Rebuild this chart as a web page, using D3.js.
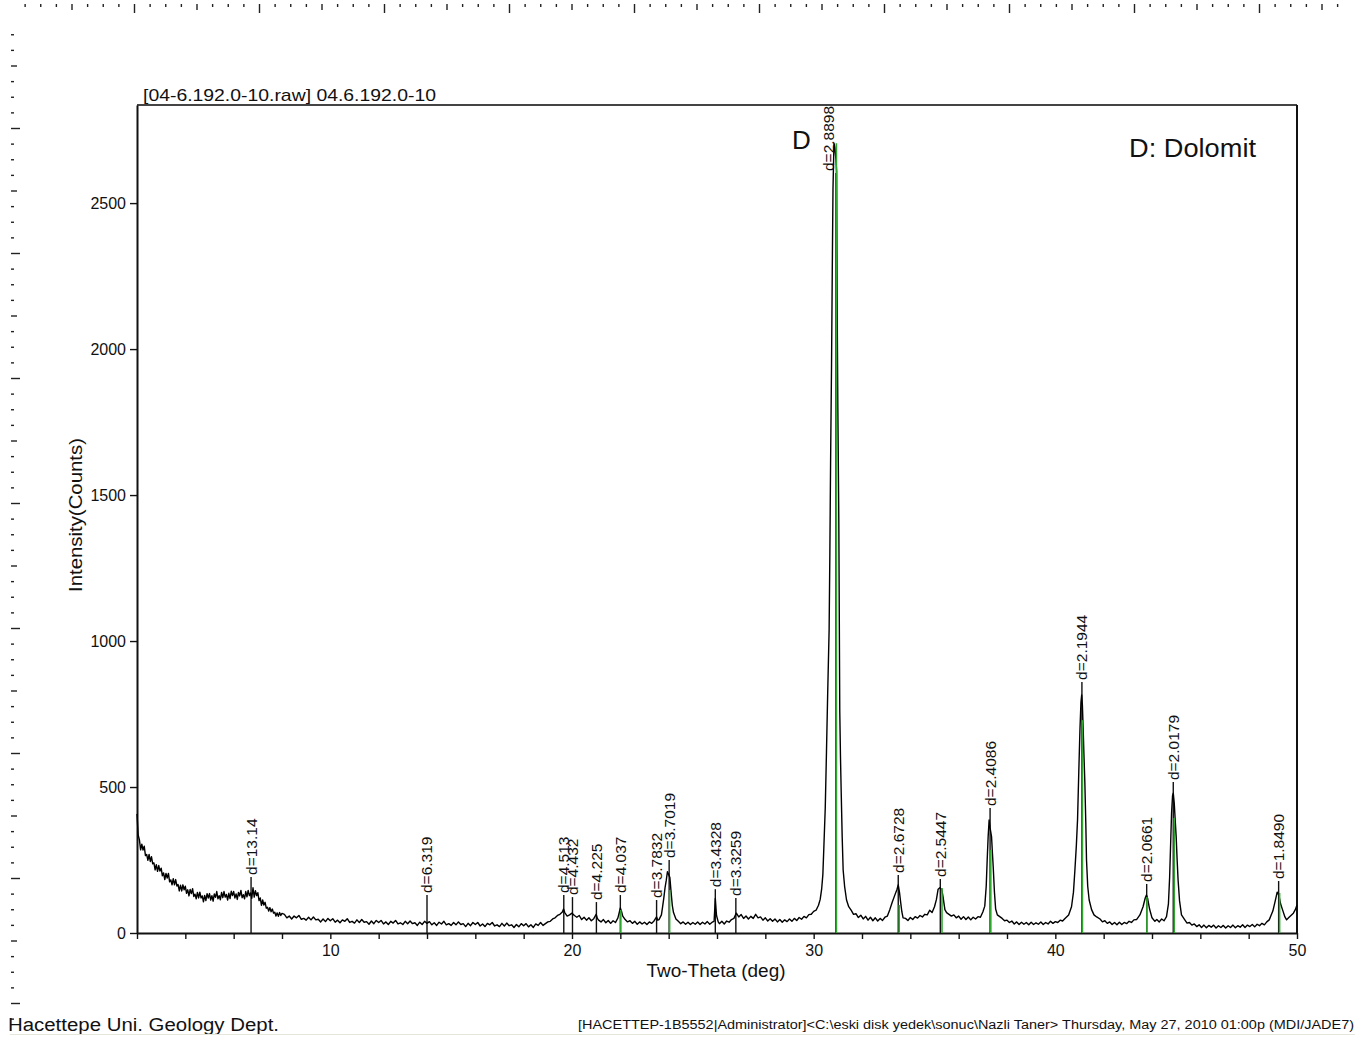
<!DOCTYPE html>
<html>
<head>
<meta charset="utf-8">
<script src="https://cdn.jsdelivr.net/npm/d3@7"></script>
<style>
  body { margin: 0; background: #fff; }
  text { font-family: "Liberation Sans", Arial, sans-serif; fill: #111; }
</style>
</head>
<body>
<svg id="chart" width="1355" height="1038"></svg>
<script>
// scan data: [two-theta (deg), intensity (counts)]
const scanLow = [
  [2.00,408],[2.05,335],[2.10,319],[2.15,285],[2.20,304],[2.25,284],[2.30,297],[2.35,265],[2.40,269],[2.45,249],
  [2.50,269],[2.55,245],[2.60,261],[2.65,237],[2.70,240],[2.75,216],[2.80,234],[2.85,211],[2.90,231],[2.95,212],
  [3.00,222],[3.05,196],[3.10,206],[3.15,183],[3.20,204],[3.25,188],[3.30,204],[3.35,175],[3.40,182],[3.45,165],
  [3.50,186],[3.55,165],[3.60,183],[3.65,161],[3.70,166],[3.75,144],[3.80,164],[3.85,144],[3.90,165],[3.95,148],
  [4.00,160],[4.05,136],[4.10,148],[4.15,127],[4.20,149],[4.25,135],[4.30,152],[4.35,125],[4.40,133],[4.45,117],
  [4.50,139],[4.55,120],[4.60,140],[4.65,120],[4.70,127],[4.75,107],[4.80,129],[4.85,111],[4.90,135],[4.95,120],
  [5.00,135],[5.05,113],[5.10,128],[5.15,109],[5.20,134],[5.25,122],[5.30,142],[5.35,117],[5.40,128],[5.45,114],
  [5.50,139],[5.55,121],[5.60,142],[5.65,123],[5.70,132],[5.75,113],[5.80,136],[5.85,118],[5.90,143],[5.95,128],
  [6.00,142],[6.05,120],[6.10,134],[6.15,115],[6.20,139],[6.25,127],[6.30,146],[6.35,121],[6.40,131],[6.45,117],
  [6.50,142],[6.55,124],[6.60,146],[6.65,128],[6.70,137],[6.75,119],[6.80,155],[6.85,123],[6.90,145],[6.95,128],
  [7.00,138],[7.05,111],[7.10,120],[7.15,95],[7.20,113],[7.25,96],[7.30,105],[7.35,85],[7.40,88],[7.45,75],
  [7.50,87],[7.55,73],[7.60,82],[7.65,68],[7.70,71],[7.75,58],[7.80,69],[7.85,57],[7.90,70],[7.95,60],[8.00,67]
];

const scanMid = [
  [8.1,64],[8.2,52],[8.3,58],[8.4,48],[8.5,58],[8.6,52],[8.7,60],[8.8,47],[8.9,50],[9.0,44],
  [9.1,54],[9.2,45],[9.3,55],[9.4,45],[9.5,47],[9.6,38],[9.7,48],[9.8,39],[9.9,50],[10.0,42],
  [10.1,49],[10.2,37],[10.3,44],[10.4,35],[10.5,45],[10.6,40],[10.7,49],[10.8,36],[10.9,40],[11.0,34],
  [11.1,45],[11.2,36],[11.3,46],[11.4,37],[11.5,39],[11.6,30],[11.7,41],[11.8,32],[11.9,43],[12.0,36],
  [12.1,43],[12.2,31],[12.3,38],[12.4,29],[12.5,40],[12.6,34],[12.7,43],[12.8,31],[12.9,35],[13.0,29],
  [13.1,40],[13.2,32],[13.3,41],[13.4,32],[13.5,35],[13.6,26],[13.7,37],[13.8,29],[13.9,40],[14.0,33],
  [14.1,39],[14.2,28],[14.3,35],[14.4,26],[14.5,37],[14.6,31],[14.7,40],[14.8,28],[14.9,32],[15.0,26],
  [15.1,36],[15.2,28],[15.3,38],[15.4,29],[15.5,32],[15.6,22],[15.7,33],[15.8,25],[15.9,36],[16.0,29],
  [16.1,36],[16.2,24],[16.3,31],[16.4,22],[16.5,33],[16.6,28],[16.7,36],[16.8,24],[16.9,28],[17.0,22],
  [17.1,33],[17.2,24],[17.3,34],[17.4,25],[17.5,28],[17.6,19],[17.7,29],[17.8,21],[17.9,32],[18.0,25],
  [18.1,32],[18.2,21],[18.3,28],[18.4,19],[18.5,31],[18.6,26],[18.7,36],[18.8,26],[18.9,32],[19.0,38],
  [19.1,40],[19.2,48],[19.3,52],[19.4,60],[19.5,64],[19.6,72],[19.65,82],[19.7,70],[19.8,58],[19.9,62],
  [20.0,68],[20.1,60],[20.2,54],[20.3,60],[20.4,46],[20.5,54],[20.6,44],[20.7,52],[20.8,42],[20.9,49],
  [21.0,64],[21.05,50],[21.1,44],[21.2,38],[21.3,46],[21.4,35],[21.5,43],[21.6,33],[21.7,42],[21.8,36],
  [21.9,52],[22.0,86],[22.05,74],[22.1,58],[22.2,46],[22.3,38],[22.4,42],[22.5,33],[22.6,40],[22.7,30],
  [22.8,38],[22.9,31],[23.0,37],[23.1,29],[23.2,38],[23.3,33],[23.4,42],[23.5,55],[23.55,44],[23.6,46],
  [23.7,62],[23.75,90],[23.8,120],[23.85,155],[23.9,180],[23.95,210],[24.0,200],[24.05,190],[24.1,140],[24.15,95],
  [24.2,70],[24.3,48],[24.4,40],[24.5,32],[24.6,38],[24.7,30],[24.8,37],[24.9,29],[25.0,36],[25.1,30],
  [25.2,38],[25.3,29],[25.4,37],[25.5,31],[25.6,39],[25.7,30],[25.8,37],[25.88,40],[25.93,118],[25.98,60],
  [26.05,38],[26.1,32],[26.2,40],[26.3,31],[26.4,41],[26.5,37],[26.6,46],[26.7,50],[26.8,68],[26.9,55],
  [27.0,63],[27.1,50],[27.2,58],[27.3,48],[27.4,57],[27.5,50],[27.6,64],[27.7,52],[27.8,55],[27.9,44],
  [28.0,52],[28.1,41],[28.2,49],[28.3,40],[28.4,48],[28.5,38],[28.6,46],[28.7,37],[28.8,45],[28.9,39],
  [29.0,48],[29.1,40],[29.2,50],[29.3,43],[29.4,53],[29.5,47],[29.6,57],[29.7,52],[29.8,63],[29.9,64],
  [30.0,74],[30.1,78],[30.2,95]
];

const scanMain = [
  [30.27,115],[30.33,150],[30.38,200],[30.42,290],[30.48,430],[30.53,620],[30.58,820],[30.64,1040],
  [30.67,1300],[30.70,1610],[30.74,1950],[30.77,2270],[30.80,2550],[30.84,2705],[30.88,2690],[30.92,2650],
  [30.95,2610],[30.97,2175],[31.00,1800],[31.04,1420],[31.08,760],[31.11,600],[31.14,480],[31.18,330],
  [31.22,216],[31.28,160],[31.36,113],[31.45,90]
];

const scanHigh = [
  [31.55,78],[31.65,64],[31.75,66],[31.85,53],[31.95,61],[32.05,48],[32.15,57],[32.25,44],[32.35,54],[32.45,42],
  [32.55,52],[32.65,41],[32.75,50],[32.85,43],[32.95,54],[33.05,58],[33.15,80],[33.25,105],[33.35,128],[33.45,150],
  [33.50,165],[33.55,140],[33.60,105],[33.65,72],[33.70,52],[33.80,50],[33.90,43],[34.00,53],[34.10,46],[34.20,56],
  [34.30,51],[34.40,60],[34.50,55],[34.60,64],[34.70,62],[34.80,78],[34.90,70],[35.00,90],[35.08,115],[35.15,150],
  [35.22,155],[35.30,150],[35.36,120],[35.43,80],[35.50,70],[35.60,64],[35.70,58],[35.80,62],[35.90,52],[36.00,58],
  [36.10,47],[36.20,56],[36.30,46],[36.40,55],[36.50,45],[36.60,54],[36.70,48],[36.80,56],[36.90,54],[37.00,72],
  [37.08,92],[37.14,160],[37.18,250],[37.22,330],[37.26,387],[37.30,360],[37.36,330],[37.40,270],[37.43,226],[37.48,140],
  [37.53,82],[37.60,62],[37.70,56],[37.80,50],[37.90,42],[38.00,44],[38.10,36],[38.20,41],[38.30,31],[38.40,38],
  [38.50,29],[38.60,37],[38.70,30],[38.80,36],[38.90,28],[39.00,37],[39.10,29],[39.20,35],[39.30,30],[39.40,38],
  [39.50,29],[39.60,36],[39.70,31],[39.80,40],[39.90,33],[40.00,39],[40.10,36],[40.20,44],[40.30,41],[40.40,50],
  [40.55,62],[40.67,90],[40.75,140],[40.81,216],[40.87,300],[40.92,390],[40.97,550],[41.02,700],[41.06,790],[41.09,815],
  [41.12,780],[41.15,705],[41.18,620],[41.22,520],[41.26,380],[41.29,250],[41.34,160],[41.40,113],[41.50,80],[41.60,62],
  [41.71,55],[41.85,48],[41.95,38],[42.05,42],[42.15,33],[42.25,38],[42.35,29],[42.45,36],[42.55,28],[42.65,37],
  [42.75,29],[42.85,36],[42.95,32],[43.05,40],[43.15,36],[43.25,45],[43.36,46],[43.50,62],[43.63,90],[43.72,120],
  [43.77,130],[43.82,118],[43.90,82],[44.00,52],[44.12,40],[44.20,46],[44.30,38],[44.40,48],[44.50,42],[44.60,56],
  [44.68,100],[44.73,192],[44.78,330],[44.81,411],[44.85,470],[44.88,479],[44.92,445],[44.96,387],[45.00,330],[45.04,250],
  [45.08,181],[45.14,110],[45.22,62],[45.35,46],[45.45,34],[45.55,36],[45.65,27],[45.75,31],[45.85,22],[45.95,28],
  [46.05,19],[46.15,27],[46.25,18],[46.35,26],[46.45,20],[46.55,27],[46.65,17],[46.75,25],[46.85,19],[46.95,26],
  [47.05,17],[47.15,25],[47.25,19],[47.35,27],[47.45,18],[47.55,25],[47.65,20],[47.75,28],[47.85,19],[47.95,27],
  [48.05,22],[48.15,29],[48.25,21],[48.35,30],[48.45,25],[48.55,33],[48.65,28],[48.75,38],[48.85,45],[49.00,75],
  [49.10,110],[49.18,140],[49.25,130],[49.32,100],[49.40,80],[49.50,55],[49.57,45],[49.65,52],[49.75,60],[49.85,68],
  [49.93,80],[50.00,96]
];

// peak markers (two-theta, d-spacing label, label base in counts)
const peakAngles = [6.72, 14.00, 19.66, 20.02, 21.01, 22.00, 23.50, 24.02, 25.93, 26.78,
                    30.92, 33.50, 35.24, 37.30, 41.10, 43.78, 44.88, 49.24];
const peakLabels = ["d=13.14", "d=6.319", "d=4.513", "d=4.432", "d=4.225", "d=4.037", "d=3.7832", "d=3.7019", "d=3.4328", "d=3.3259",
                    "d=2.8898", "d=2.6728", "d=2.5447", "d=2.4086", "d=2.1944", "d=2.0661", "d=2.0179", "d=1.8490"];
const peakLabelCounts = [192, 130, 130, 123, 106, 130, 113, 250, 150, 120,
                         2603, 199, 185, 428, 860, 168, 517, 178];

// Dolomite reference sticks (green)
const refAngles = [22.02, 24.04, 30.94, 33.54, 35.31, 37.33, 41.12, 43.79, 44.92, 49.28];
const refCounts = [79, 147, 2705, 96, 154, 284, 729, 123, 394, 137];

const xTicks = d3.range(2, 51, 2);
const yTicks = [0, 500, 1000, 1500, 2000, 2500];

const svg = d3.select("#chart");
const plotLeft = 137, plotRight = 1297, plotTop = 105, plotBottom = 933;

const x = d3.scaleLinear().domain([2, 50]).range([plotLeft, plotRight]);
const y = d3.scaleLinear().domain([0, 2836]).range([plotBottom, plotTop]);

// page rulers
const step = 15.625;
const topRuler = svg.append("g").attr("stroke", "#222").attr("stroke-width", 1.4);
d3.range(0, 86).forEach(k => {
  const px = 9.5 + k * step;
  if (px < 20 || px > 1350) return;
  const len = k % 8 === 0 ? 9 : (k % 4 === 0 ? 6 : 3);
  topRuler.append("line").attr("x1", px).attr("x2", px).attr("y1", 4).attr("y2", 4 + len);
});
const leftRuler = svg.append("g").attr("stroke", "#222").attr("stroke-width", 1.4);
d3.range(0, 66).forEach(k => {
  const py = 3.5 + k * step;
  if (py < 25 || py > 1021) return;
  const len = k % 8 === 0 ? 9 : (k % 4 === 0 ? 6 : 3);
  leftRuler.append("line").attr("x1", 11).attr("x2", 11 + len).attr("y1", py).attr("y2", py);
});

// frame
svg.append("line").attr("x1", plotLeft).attr("x2", plotRight).attr("y1", plotTop).attr("y2", plotTop)
  .attr("stroke", "#444").attr("stroke-width", 2);
svg.append("line").attr("x1", plotRight).attr("x2", plotRight).attr("y1", plotTop).attr("y2", plotBottom)
  .attr("stroke", "#111").attr("stroke-width", 2);

// axes
const xAxis = svg.append("g")
  .attr("transform", `translate(0,${plotBottom})`)
  .call(d3.axisBottom(x).tickValues(xTicks).tickSize(6).tickSizeOuter(0)
    .tickFormat(d => d % 10 === 0 ? d : ""));
const yAxis = svg.append("g")
  .attr("transform", `translate(${plotLeft},0)`)
  .call(d3.axisLeft(y).tickValues(yTicks).tickSize(7).tickSizeOuter(0).tickFormat(d3.format("d")));
[xAxis, yAxis].forEach(g => {
  g.select(".domain").attr("stroke", "#111").attr("stroke-width", 2);
  g.selectAll(".tick line").attr("stroke", "#111").attr("stroke-width", 1.4);
  g.selectAll(".tick text").attr("font-size", 16)
    .attr("font-family", "'Liberation Sans', Arial, sans-serif").attr("fill", "#222");
});
xAxis.selectAll(".tick text").attr("dy", "0.85em");
yAxis.selectAll(".tick text").attr("dx", "-1px");

// peak marker lines
const markers = svg.append("g");
markers.selectAll("line")
  .data(peakAngles)
  .join("line")
    .attr("x1", d => x(d)).attr("x2", d => x(d))
    .attr("y1", y(0))
    .attr("y2", (d, i) => y(peakLabelCounts[i]))
    .attr("stroke", "#111").attr("stroke-width", 1.4);

// scan curve
const scan = scanLow.concat(scanMid, scanMain, scanHigh);
const line = d3.line().x(d => x(d[0])).y(d => y(d[1]));
svg.append("path")
  .datum(scan)
  .attr("d", line)
  .attr("fill", "none")
  .attr("stroke", "#000")
  .attr("stroke-width", 1.4)
  .attr("stroke-linejoin", "round");

// reference sticks
svg.append("g").selectAll("line")
  .data(refAngles)
  .join("line")
    .attr("x1", d => x(d)).attr("x2", d => x(d))
    .attr("y1", y(0))
    .attr("y2", (d, i) => y(refCounts[i]))
    .attr("stroke", "#2fa82f").attr("stroke-width", 1.6);

// peak labels; a label that would sit on its own peak is moved beside it
const peakTop = a => d3.max(scan.filter(p => Math.abs(p[0] - a) < 0.15), p => p[1]) || 0;
svg.append("g").selectAll("text")
  .data(peakAngles)
  .join("text")
    .attr("transform", (d, i) => {
      const shift = peakTop(d) > peakLabelCounts[i] ? -7 : 0;
      return `translate(${x(d) + shift},${y(peakLabelCounts[i]) - 2}) rotate(-90)`;
    })
    .attr("dy", "0.35em")
    .attr("font-size", 15.5)
    .text((d, i) => peakLabels[i]);

// texts
svg.append("text").attr("x", 143).attr("y", 101).attr("font-size", 17)
  .attr("textLength", 293).attr("lengthAdjust", "spacingAndGlyphs")
  .text("[04-6.192.0-10.raw] 04.6.192.0-10");
svg.append("text").attr("x", 716).attr("y", 977).attr("text-anchor", "middle").attr("font-size", 18)
  .attr("textLength", 139).attr("lengthAdjust", "spacingAndGlyphs")
  .text("Two-Theta (deg)");
svg.append("text").attr("transform", "translate(82,515) rotate(-90)").attr("text-anchor", "middle")
  .attr("font-size", 18).attr("textLength", 154).attr("lengthAdjust", "spacingAndGlyphs")
  .text("Intensity(Counts)");
svg.append("text").attr("x", 792).attr("y", 149).attr("font-size", 26).text("D");
svg.append("text").attr("x", 1129).attr("y", 157).attr("font-size", 25)
  .attr("textLength", 127).attr("lengthAdjust", "spacingAndGlyphs").text("D: Dolomit");

// footer
svg.append("text").attr("x", 8).attr("y", 1031).attr("font-size", 18)
  .attr("textLength", 271).attr("lengthAdjust", "spacingAndGlyphs")
  .text("Hacettepe Uni. Geology Dept.");
svg.append("text").attr("x", 578).attr("y", 1029).attr("font-size", 12.5)
  .attr("textLength", 776).attr("lengthAdjust", "spacingAndGlyphs")
  .text("[HACETTEP-1B5552|Administrator]<C:\\eski disk yedek\\sonuc\\Nazli Taner> Thursday, May 27, 2010 01:00p (MDI/JADE7)");
svg.append("line").attr("x1", 10).attr("x2", 1355).attr("y1", 1034.5).attr("y2", 1034.5)
  .attr("stroke", "#e4e6dc").attr("stroke-width", 1);
</script>
</body>
</html>
